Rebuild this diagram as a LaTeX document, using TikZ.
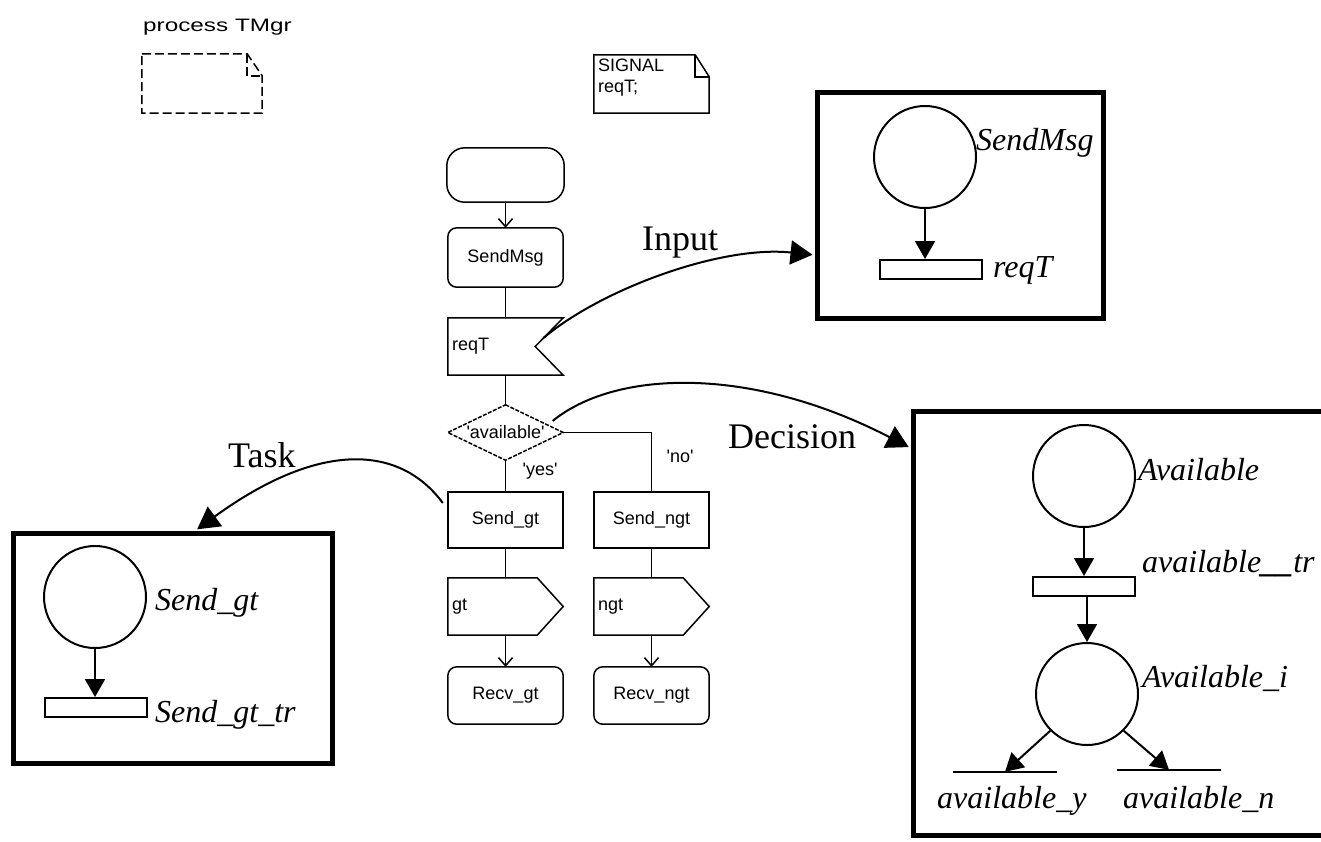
\documentclass[tikz,border=0pt]{standalone}
\usepackage{fontspec}
\setmainfont{Liberation Serif}
\newfontfamily\fcfont{Liberation Sans}
\newfontfamily\widefont[FakeStretch=1.35]{Liberation Sans}
\usetikzlibrary{arrows.meta,calc}
\begin{document}
\begin{tikzpicture}[x=1pt,y=-1pt,
 fcbox/.style={draw=none,minimum width=115pt,minimum height=57pt,inner sep=0pt,font=\fcfont\fontsize{18}{21}\selectfont},
 fcleft/.style={fcbox,text width=107pt,align=left},
 fcl/.style={line width=1.5pt},
 fcarr/.style={fcl,-{Straight Barb[length=8pt,width=14pt]}},
 fctxt/.style={font=\fcfont\fontsize{18}{21}\selectfont,inner sep=0pt},
 docl/.style={line width=1.5pt},
 place/.style={circle,draw,line width=2pt,minimum size=102pt,inner sep=0pt},
 trans/.style={draw,line width=2pt,minimum width=102pt,minimum height=19pt,inner sep=0pt},
 bar/.style={minimum width=104pt,minimum height=0pt,inner sep=0pt},
 parr/.style={line width=2pt,-{Triangle[length=18pt,width=20pt]}},
 conn/.style={line width=2pt,-{Triangle[length=22pt,width=24pt]},shorten >=2pt},
 frame/.style={draw,line width=5pt,inner sep=0pt},
 lab/.style={font=\fontsize{32}{36}\selectfont\itshape,inner sep=0pt,anchor=base west},
 big/.style={font=\fontsize{36}{40}\selectfont,inner sep=0pt,anchor=base west}]
\useasboundingbox (0,0) rectangle (1321,841);
\clip (0,0) rectangle (1321,841);

% ---------- header ----------
\node[inner sep=0pt,anchor=base west,font=\widefont\fontsize{18}{20}\selectfont] (title) at (143,31) {process TMgr};
\node[minimum width=120pt,minimum height=59pt,inner sep=0pt] (doc) at (202,83.5) {};
\draw[docl,dash pattern=on 9pt off 4pt] (doc.north west) -- ($(doc.north east)+(-15,0)$) -- ($(doc.north east)+(0,22)$) -- (doc.south east) -- (doc.south west) -- cycle;
\draw[docl,dash pattern=on 9pt off 4pt] ($(doc.north east)+(-15,0)$) -- ($(doc.north east)+(-15,22)$) -- ($(doc.north east)+(0,22)$);

\node[minimum width=115pt,minimum height=58pt,inner sep=0pt] (sig) at (651.5,84) {};
\draw[docl] (sig.north west) -- ($(sig.north east)+(-14,0)$) -- ($(sig.north east)+(0,22)$) -- (sig.south east) -- (sig.south west) -- cycle;
\draw[docl] ($(sig.north east)+(-14,0)$) -- ($(sig.north east)+(-14,22)$) -- ($(sig.north east)+(0,22)$);
\node[fctxt,anchor=north west,align=left] (sigt) at ($(sig.north west)+(4,4)$) {SIGNAL\\reqT;};

% ---------- flowchart ----------
\node[fcbox,minimum width=117pt,minimum height=54pt] (st) at (505.5,175) {};
\draw[fcl,rounded corners=18pt] (st.north west) rectangle (st.south east);
\node[fcbox,minimum height=59pt] (sm) at (505.5,257.5) {SendMsg};
\draw[fcl,rounded corners=9pt] (sm.north west) rectangle (sm.south east);
\draw[fcarr] (st) -- (sm);

\node[fcleft] (rq) at (505.5,346.5) {reqT};
\coordinate (notch) at ($(rq.east)+(-28,0)$);
\draw[fcl] (rq.north west) -- (rq.north east) -- (notch) -- (rq.south east) -- (rq.south west) -- cycle;
\draw[fcl] (sm) -- (rq);

\node[fcbox,minimum height=55pt] (dec) at (505.5,432.5) {'available'};
\draw[fcl,dash pattern=on 4pt off 1.5pt] (dec.north) -- (dec.east) -- (dec.south) -- (dec.west) -- cycle;
\draw[fcl] (rq) -- (dec);

\node[fcbox,minimum height=56pt] (sg) at (505.5,520) {Send\_gt};
\node[fcbox,minimum height=56pt] (sn) at (651.5,520) {Send\_ngt};
\draw[fcl] (sg.north west) rectangle (sg.south east);
\draw[fcl] (sn.north west) rectangle (sn.south east);
\draw[fcl] (dec) -- (sg);
\draw[fcl] (dec.east) -| (sn.north);
\node[fctxt] (yes) at (540,471) {'yes'};
\node[fctxt] (no) at (680,456) {'no'};

\node[fcleft] (og) at (505.5,606.5) {gt};
\node[fcleft] (on) at (651.5,606.5) {ngt};
\draw[fcl] (og.north west) -- ($(og.north east)+(-26,0)$) -- (og.east) -- ($(og.south east)+(-26,0)$) -- (og.south west) -- cycle;
\draw[fcl] (on.north west) -- ($(on.north east)+(-26,0)$) -- (on.east) -- ($(on.south east)+(-26,0)$) -- (on.south west) -- cycle;
\draw[fcl] (sg) -- (og);
\draw[fcl] (sn) -- (on);

\node[fcbox] (rg) at (505.5,695.5) {Recv\_gt};
\node[fcbox] (rn) at (651.5,695.5) {Recv\_ngt};
\draw[fcl,rounded corners=9pt] (rg.north west) rectangle (rg.south east);
\draw[fcl,rounded corners=9pt] (rn.north west) rectangle (rn.south east);
\draw[fcarr] (og) -- (rg);
\draw[fcarr] (on) -- (rn);

% ---------- frames ----------
\node[frame,minimum width=286pt,minimum height=226pt] (tf) at (960,205) {};
\node[frame,minimum width=319pt,minimum height=230pt] (lf) at (172.5,648) {};
\node[frame,minimum width=527pt,minimum height=424pt] (rf) at (1176.5,623) {};

% ---------- Petri net: input ----------
\node[place] (p1) at (925,157) {};
\node[trans] (t1) at (931,269.5) {};
\draw[parr] (p1) -- (p1 |- t1.north);
\node[lab] (l1) at (976,150) {SendMsg};
\node[lab] (l2) at (993,277) {reqT};

% ---------- Petri net: task ----------
\node[place] (p2) at (95,597) {};
\node[trans] (t2) at (95.5,707.5) {};
\draw[parr] (p2) -- (p2 |- t2.north);
\node[lab] (l3) at (155,610) {Send\_gt};
\node[lab] (l4) at (155,722) {Send\_gt\_tr};

% ---------- Petri net: decision ----------
\node[place] (p3) at (1084,476) {};
\node[trans] (t3) at (1084,586.5) {};
\draw[parr] (p3) -- (p3 |- t3.north);
\node[place] (p4) at (1087,694) {};
\draw[parr] (t3.south -| p4) -- (p4);
\node[bar] (by) at (1005,772) {};
\node[bar] (bn) at (1169,770) {};
\draw[line width=2pt] (by.west) -- (by.east);
\draw[line width=2pt] (bn.west) -- (bn.east);
\draw[parr] (p4.225) -- (by.north);
\draw[parr] (p4.-45) -- (bn.north);
\node[lab] (l5) at (1138,480) {Available};
\node[lab] (l6) at (1142,572) {available\textbf{\_\_}tr};
\node[lab] (l7) at (1142,687) {Available\_i};
\node[lab] (l8) at (937,808) {available\_y};
\node[lab] (l9) at (1123,808) {available\_n};

% ---------- connectors ----------
\draw[conn] ($(notch)!0.3!(rq.north east)$) .. controls (600,290) and (720,245) .. ([yshift=-50pt]tf.west);
\draw[conn] ($(dec.north)!0.8!(dec.east)+(1,-6)$) .. controls (615,370) and (750,365) .. ([yshift=175pt]rf.west);
\draw[conn] ([xshift=-5pt,yshift=17pt]sg.west) .. controls (400,445) and (320,440) .. ([xshift=23pt]lf.north);
\node[big] (input) at (642,250) {Input};
\node[big] (decision) at (728,448) {Decision};
\node[big] (task) at (228,467) {Task};
\end{tikzpicture}
\end{document}
